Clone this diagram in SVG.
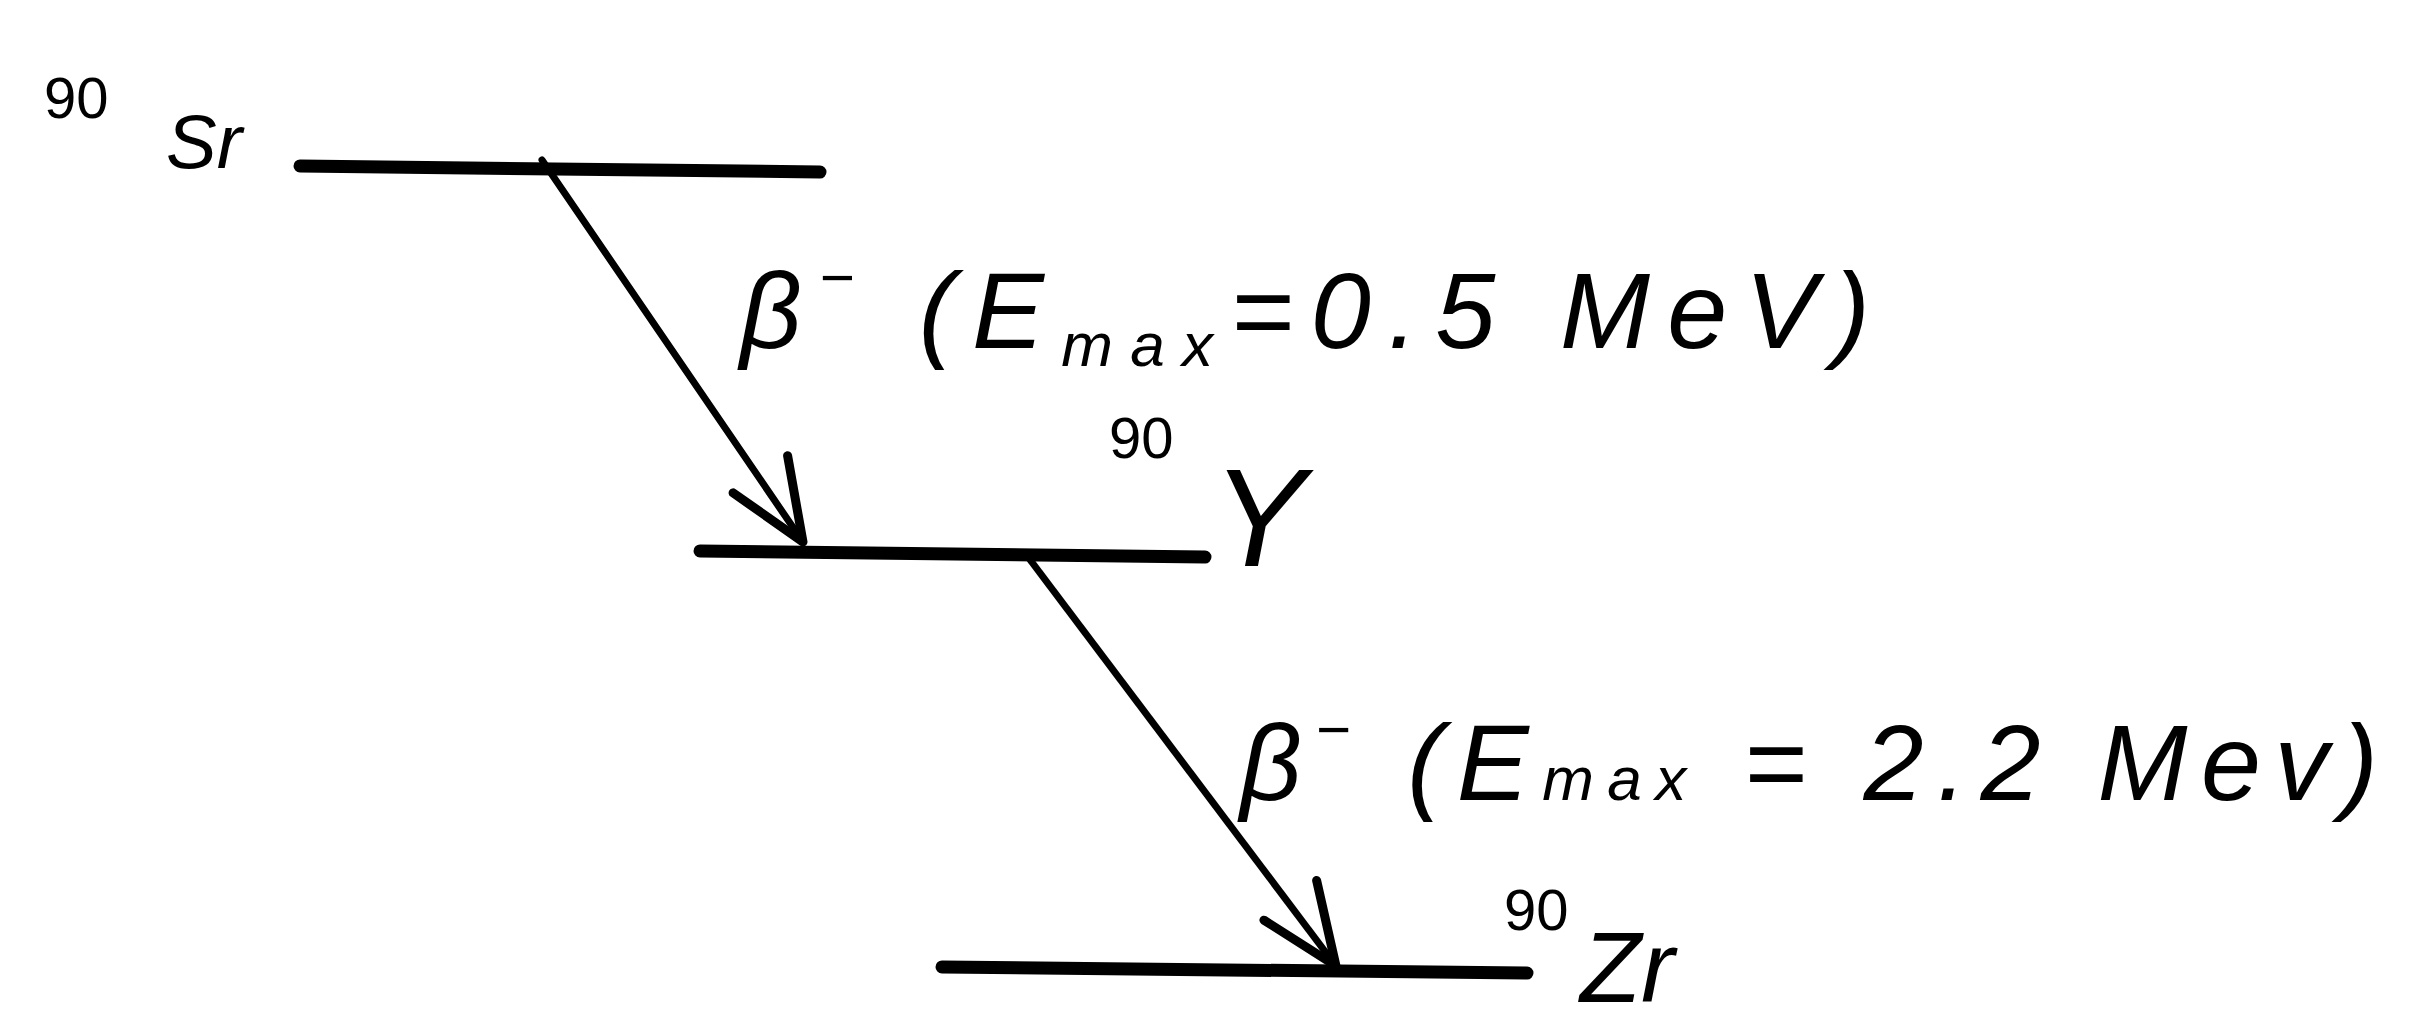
<svg xmlns="http://www.w3.org/2000/svg" width="2413" height="1022" viewBox="0 0 2413 1022">
<style>
.level{stroke:#000;stroke-width:13;stroke-linecap:round;fill:none}
.decay{stroke:#000;stroke-width:7;fill:none;stroke-linecap:round}
.t{font-family:"Liberation Sans",Arial,sans-serif;font-style:italic;fill:#000}
.iso{font-family:"Liberation Sans",Arial,sans-serif;fill:#000;font-size:58px}
</style>
<defs>
<marker id="ah" markerUnits="userSpaceOnUse" markerWidth="120" markerHeight="120" refX="0" refY="0" viewBox="-100 -60 120 120" orient="auto">
<path d="M -80,-36 L 0,0 L -80,30" fill="none" stroke="#000" stroke-width="9" stroke-linecap="round" stroke-linejoin="round"/>
</marker>
</defs>
<rect width="2413" height="1022" fill="#fff"/>
<g id="sr90">
<line class="level" x1="300" y1="166" x2="820" y2="172"/>
<text class="iso" x="44" y="118">90</text>
<text class="t" x="166" y="168" font-size="76">Sr</text>
</g>
<g id="y90">
<line class="level" x1="700" y1="551" x2="1205" y2="557"/>
<text class="iso" x="1109" y="458">90</text>
<text class="t" x="1212" y="566" font-size="140">Y</text>
</g>
<g id="zr90">
<line class="level" x1="942" y1="967" x2="1527" y2="973"/>
<text class="iso" x="1504" y="930">90</text>
<text class="t" x="1580" y="1002" font-size="100">Zr</text>
</g>
<g id="connectors">
<line class="decay" x1="542" y1="160" x2="803" y2="542" marker-end="url(#ah)"/>
<line class="decay" x1="1028" y1="557" x2="1336" y2="966" marker-end="url(#ah)"/>
</g>
<g id="labels">
<text class="t" x="740" y="348" font-size="108" textLength="1130" lengthAdjust="spacing">β<tspan font-size="60" dy="-50">−</tspan><tspan dy="50"> (E</tspan><tspan font-size="62" dy="18">max</tspan><tspan dy="-18">=0.5 MeV)</tspan></text>
<text class="t" x="1240" y="800" font-size="108" textLength="1138" lengthAdjust="spacing">β<tspan font-size="60" dy="-50">−</tspan><tspan dy="50"> (E</tspan><tspan font-size="62">max</tspan> = 2.2 Mev)</text>
</g>
</svg>
